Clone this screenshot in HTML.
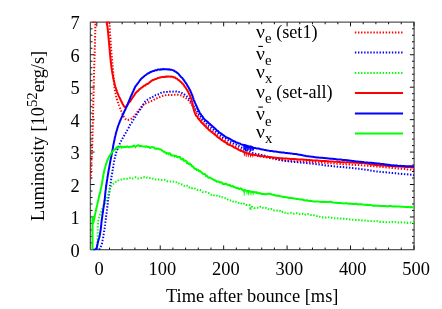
<!DOCTYPE html>
<html><head><meta charset="utf-8"><title>Luminosity</title>
<style>
html,body{margin:0;padding:0;background:#fff;}
body{width:442px;height:309px;overflow:hidden;font-family:"Liberation Serif",serif;}
svg{display:block;}
text{font-family:"Liberation Serif",serif;fill:#000;}
</style></head><body>
<svg width="442" height="309" viewBox="0 0 442 309">
<rect x="0" y="0" width="442" height="309" fill="#fff"/>
<defs><clipPath id="c"><rect x="90.10" y="21.85" width="324.50" height="228.50"/></clipPath></defs>
<path d="M354.9,32.4 L403.0,32.4" stroke="#ff0000" stroke-width="2.0" fill="none" stroke-dasharray="1.4 1.68"/>
<path d="M354.9,52.6 L403.0,52.6" stroke="#0000ff" stroke-width="2.0" fill="none" stroke-dasharray="1.4 1.68"/>
<path d="M354.9,72.9 L403.0,72.9" stroke="#00ff00" stroke-width="2.0" fill="none" stroke-dasharray="1.4 1.68"/>
<path d="M354.9,93.1 L403.0,93.1" stroke="#ff0000" stroke-width="2.0" fill="none"/>
<path d="M354.9,113.4 L403.0,113.4" stroke="#0000ff" stroke-width="2.0" fill="none"/>
<path d="M354.9,133.6 L403.0,133.6" stroke="#00ff00" stroke-width="2.0" fill="none"/>
<rect x="90.4" y="22.15" width="323.70" height="227.50" fill="none" stroke="#5a5a5a" stroke-width="1.3"/>
<g stroke="#111" stroke-width="1.0" fill="none">
<path d="M96.80,249.65 v-4.2 M96.80,22.15 v4.2 M109.49,249.65 v-2.1 M109.49,22.15 v2.1 M122.17,249.65 v-2.1 M122.17,22.15 v2.1 M134.86,249.65 v-2.1 M134.86,22.15 v2.1 M147.54,249.65 v-2.1 M147.54,22.15 v2.1 M160.23,249.65 v-4.2 M160.23,22.15 v4.2 M172.92,249.65 v-2.1 M172.92,22.15 v2.1 M185.60,249.65 v-2.1 M185.60,22.15 v2.1 M198.29,249.65 v-2.1 M198.29,22.15 v2.1 M210.97,249.65 v-2.1 M210.97,22.15 v2.1 M223.66,249.65 v-4.2 M223.66,22.15 v4.2 M236.35,249.65 v-2.1 M236.35,22.15 v2.1 M249.03,249.65 v-2.1 M249.03,22.15 v2.1 M261.72,249.65 v-2.1 M261.72,22.15 v2.1 M274.40,249.65 v-2.1 M274.40,22.15 v2.1 M287.09,249.65 v-4.2 M287.09,22.15 v4.2 M299.78,249.65 v-2.1 M299.78,22.15 v2.1 M312.46,249.65 v-2.1 M312.46,22.15 v2.1 M325.15,249.65 v-2.1 M325.15,22.15 v2.1 M337.83,249.65 v-2.1 M337.83,22.15 v2.1 M350.52,249.65 v-4.2 M350.52,22.15 v4.2 M363.21,249.65 v-2.1 M363.21,22.15 v2.1 M375.89,249.65 v-2.1 M375.89,22.15 v2.1 M388.58,249.65 v-2.1 M388.58,22.15 v2.1 M401.26,249.65 v-2.1 M401.26,22.15 v2.1 M413.95,249.65 v-4.2 M413.95,22.15 v4.2 M90.4,242.91 h2.1 M414.1,242.91 h-2.1 M90.4,236.42 h2.1 M414.1,236.42 h-2.1 M90.4,229.93 h2.1 M414.1,229.93 h-2.1 M90.4,223.45 h2.1 M414.1,223.45 h-2.1 M90.4,216.96 h4.2 M414.1,216.96 h-4.2 M90.4,210.47 h2.1 M414.1,210.47 h-2.1 M90.4,203.98 h2.1 M414.1,203.98 h-2.1 M90.4,197.49 h2.1 M414.1,197.49 h-2.1 M90.4,191.00 h2.1 M414.1,191.00 h-2.1 M90.4,184.51 h4.2 M414.1,184.51 h-4.2 M90.4,178.03 h2.1 M414.1,178.03 h-2.1 M90.4,171.54 h2.1 M414.1,171.54 h-2.1 M90.4,165.05 h2.1 M414.1,165.05 h-2.1 M90.4,158.56 h2.1 M414.1,158.56 h-2.1 M90.4,152.07 h4.2 M414.1,152.07 h-4.2 M90.4,145.58 h2.1 M414.1,145.58 h-2.1 M90.4,139.09 h2.1 M414.1,139.09 h-2.1 M90.4,132.61 h2.1 M414.1,132.61 h-2.1 M90.4,126.12 h2.1 M414.1,126.12 h-2.1 M90.4,119.63 h4.2 M414.1,119.63 h-4.2 M90.4,113.14 h2.1 M414.1,113.14 h-2.1 M90.4,106.65 h2.1 M414.1,106.65 h-2.1 M90.4,100.16 h2.1 M414.1,100.16 h-2.1 M90.4,93.67 h2.1 M414.1,93.67 h-2.1 M90.4,87.19 h4.2 M414.1,87.19 h-4.2 M90.4,80.70 h2.1 M414.1,80.70 h-2.1 M90.4,74.21 h2.1 M414.1,74.21 h-2.1 M90.4,67.72 h2.1 M414.1,67.72 h-2.1 M90.4,61.23 h2.1 M414.1,61.23 h-2.1 M90.4,54.74 h4.2 M414.1,54.74 h-4.2 M90.4,48.25 h2.1 M414.1,48.25 h-2.1 M90.4,41.76 h2.1 M414.1,41.76 h-2.1 M90.4,35.28 h2.1 M414.1,35.28 h-2.1 M90.4,28.79 h2.1 M414.1,28.79 h-2.1"/>
</g>
<g clip-path="url(#c)" fill="none" stroke-linejoin="round">
<path d="M90.6,179.0 90.7,177.7 90.7,176.0 90.9,174.0 91.0,171.8 91.1,169.5 91.2,167.2 91.3,165.0 91.4,163.2 91.5,161.4 91.6,159.7 91.7,157.9 91.7,156.0 91.8,154.1 91.9,152.1 92.0,150.0 92.1,148.2 92.1,146.4 92.2,144.6 92.3,142.6 92.4,140.7 92.4,138.7 92.5,136.6 92.6,134.5 92.6,132.3 92.7,130.0 92.7,128.2 92.8,126.4 92.8,124.5 92.9,122.6 92.9,120.6 93.0,118.6 93.0,116.6 93.1,114.6 93.1,112.5 93.2,110.4 93.2,108.3 93.3,106.1 93.3,104.0 93.3,102.1 93.4,100.2 93.4,98.2 93.5,96.2 93.5,94.1 93.6,92.1 93.6,90.0 93.7,88.0 93.7,85.9 93.8,83.9 93.8,81.8 93.9,79.8 93.9,77.8 94.0,75.9 94.0,74.0 94.1,71.9 94.1,69.8 94.2,67.7 94.2,65.7 94.3,63.7 94.4,61.7 94.4,59.8 94.5,57.8 94.6,55.8 94.6,53.9 94.7,51.9 94.7,50.0 94.8,48.0 94.9,45.9 94.9,43.8 95.0,41.5 95.0,39.2 95.1,36.9 95.2,34.6 95.2,32.4 95.3,30.3 95.3,28.3 95.4,26.5 95.4,24.8 95.5,23.4 95.5,22.3" stroke="#ff0000" stroke-width="2.0" stroke-dasharray="1.4 1.68"/>
<path d="M109.3,22.3 109.4,23.1 109.4,24.1 109.5,25.3 109.6,26.6 109.7,28.0 109.8,29.5 109.9,31.1 110.0,32.8 110.1,34.5 110.2,36.3 110.4,38.0 110.5,39.8 110.6,41.5 110.7,43.1 110.8,44.7 110.9,46.2 111.0,47.6 111.1,48.9 111.2,50.0 111.4,52.3 111.5,54.1 111.7,55.6 111.8,57.0 111.9,58.2 112.1,59.4 112.2,60.6 112.3,62.0 112.4,63.5 112.6,65.1 112.7,66.6 112.8,68.2 113.0,69.7 113.1,71.2 113.2,72.6 113.3,74.0 113.4,75.7 113.5,77.2 113.6,78.7 113.7,80.1 113.9,81.6 114.0,83.0 114.2,84.4 114.3,85.9 114.5,87.3 114.7,88.7 114.9,90.1 115.2,91.6 115.5,92.9 115.7,94.3 116.0,95.6 116.3,97.0 116.7,98.4 117.1,99.8 117.5,101.3 118.0,102.6 118.5,104.1 119.0,105.5 119.6,107.0 120.2,108.5 120.8,109.8 121.3,111.1 121.8,112.2 122.6,114.0 123.2,115.4 123.7,116.5 124.3,117.4 125.4,119.0 126.5,119.8 127.9,120.0 129.5,119.3 131.1,118.7 132.7,117.5 133.8,116.4 134.9,115.3 136.0,113.6 136.8,112.8 137.7,111.6 138.6,110.5 139.5,109.5 140.5,108.4 141.5,106.9 142.5,105.3 143.5,104.4 144.8,103.4 146.2,103.2 147.5,102.7 148.9,102.1 150.2,101.6 151.7,100.9 152.9,100.4 154.2,99.6 155.5,98.6 156.8,98.3 158.1,97.5 159.4,97.2 160.7,96.6 162.2,96.1 163.5,95.7 164.8,95.4 166.2,95.1 167.6,94.8 169.0,95.0 170.4,94.9 171.8,94.9 173.2,94.7 174.5,94.7 175.8,94.8 177.3,94.6 178.6,95.0 180.0,95.2 181.3,95.4 182.7,96.1 184.2,97.1 185.5,97.8 186.7,98.8 187.8,99.7 188.6,100.4 189.4,101.3 190.2,102.6 191.0,103.6 191.9,105.0 192.7,106.3 193.4,107.6 194.0,108.6 194.7,110.1 195.3,111.5 196.0,112.4 196.7,113.9 197.4,115.2 198.1,116.0 198.8,117.2 199.5,118.7 200.3,119.8 201.1,120.5 201.9,121.2 203.0,122.5 203.9,123.7 205.0,124.8 206.1,125.9 207.3,126.7 208.5,128.2 209.6,129.0 210.7,130.2 211.9,130.8 213.0,132.2 214.1,132.8 215.3,133.8 216.4,134.3 217.5,135.5 218.7,136.3 219.8,137.2 220.9,138.0 222.1,139.0 223.2,139.6 224.6,140.5 225.9,141.3 227.3,142.4 228.6,142.8 230.0,143.6 231.4,144.3 232.7,145.3 234.1,145.9 235.5,146.6 236.8,147.0 238.0,148.0 239.2,148.7 240.4,149.3 241.6,150.0 243.0,151.3 244.2,151.4 245.3,152.1 246.5,152.6 247.8,153.4 249.4,153.7 251.4,154.5 252.6,154.7 253.9,155.3 255.3,155.1 256.8,155.6 258.4,156.0 260.0,156.6 261.7,156.6 263.3,156.9 264.9,157.2 266.5,157.4 268.1,157.6 269.5,158.0 271.1,158.4 272.6,158.6 274.0,158.8 275.3,159.2 276.7,159.4 278.1,159.6 279.6,159.9 281.2,160.1 283.0,160.2 285.0,160.5 286.2,160.5 287.5,160.7 288.8,160.7 290.2,160.9 291.6,160.9 293.1,161.1 294.6,161.2 296.2,161.1 297.7,161.3 299.3,161.3 300.9,161.4 302.5,161.5 304.1,161.5 305.7,161.6 307.3,161.7 308.9,161.7 310.5,162.0 312.0,161.9 313.5,162.2 314.9,162.1 316.4,162.3 317.9,162.4 319.4,162.4 320.9,162.5 322.4,162.7 323.9,162.8 325.4,163.0 326.9,163.2 328.4,163.1 329.9,163.3 331.3,163.3 332.8,163.6 334.3,163.6 335.7,163.8 337.2,163.8 338.6,163.8 340.0,163.9 341.5,164.0 342.9,164.3 344.3,164.2 345.6,164.3 346.8,164.4 348.1,164.4 349.3,164.6 350.6,164.5 351.8,164.7 353.1,164.7 354.5,164.9 356.0,164.9 357.5,165.0 359.2,165.1 361.0,165.2 362.9,165.4 365.0,165.6 366.2,165.7 367.4,165.6 368.7,165.7 370.1,165.9 371.6,166.1 373.1,166.2 374.7,166.3 376.3,166.6 378.0,166.6 379.7,166.7 381.4,166.9 383.1,167.0 384.9,167.3 386.6,167.4 388.4,167.6 390.2,167.8 391.9,168.0 393.7,168.2 395.4,168.2 397.1,168.4 398.8,168.6 400.4,168.8 402.0,168.8 403.5,169.1 405.0,169.1 406.4,169.3 407.7,169.5 409.0,169.5 410.2,169.6 411.3,169.8 412.3,169.8 413.2,169.8 414.0,169.9" stroke="#ff0000" stroke-width="2.0" stroke-dasharray="1.4 1.68"/>
<path d="M99.2,249.7 99.8,248.5 100.5,247.0 101.1,246.1 101.7,244.4 102.0,243.4 102.2,242.1 102.5,240.7 102.8,239.1 103.1,237.6 103.4,236.0 103.6,234.8 103.8,233.7 104.0,232.7 104.1,231.5 104.3,230.1 104.6,228.3 104.9,226.0 105.1,224.9 105.2,223.6 105.4,222.2 105.6,220.7 105.8,219.1 106.0,217.4 106.2,215.7 106.4,213.9 106.7,212.2 106.9,210.4 107.1,208.7 107.3,207.0 107.5,205.4 107.7,203.9 107.9,202.5 108.0,201.2 108.2,200.0 108.5,197.8 108.7,196.3 108.8,195.3 108.9,194.3 109.1,193.1 109.3,191.5 109.7,189.0 109.9,188.0 110.0,186.8 110.2,185.5 110.4,184.2 110.7,182.7 110.9,181.2 111.1,179.7 111.4,178.1 111.6,176.4 111.9,174.8 112.2,173.1 112.4,171.4 112.7,169.8 113.0,168.2 113.2,166.6 113.5,165.1 113.7,163.6 114.0,162.2 114.2,160.9 114.5,159.7 114.7,158.6 115.2,156.4 115.7,154.5 116.1,152.9 116.6,151.4 117.0,150.2 117.5,149.0 118.0,147.9 118.5,146.7 119.0,145.5 119.6,144.0 120.3,142.6 121.0,141.3 121.7,140.0 122.4,138.7 123.1,137.4 123.8,136.2 124.5,135.0 125.2,133.8 125.9,132.6 126.6,131.0 127.3,130.1 128.0,128.9 128.7,127.7 129.3,126.3 130.1,124.8 130.9,123.6 131.7,122.5 132.6,120.9 133.5,119.5 134.3,118.2 135.1,117.2 136.1,115.9 137.0,114.2 137.9,113.2 138.7,111.4 139.5,110.7 140.4,109.2 141.3,107.4 142.1,106.4 142.8,105.1 143.5,104.3 144.4,102.4 145.2,101.5 146.3,100.6 147.5,99.7 148.9,98.8 150.3,98.0 151.7,97.7 153.0,96.8 154.2,96.4 155.5,95.3 156.8,95.1 158.1,94.5 159.5,94.0 160.8,93.0 162.2,92.7 163.6,92.2 165.0,92.3 166.5,91.9 168.0,92.1 169.6,91.6 171.3,91.7 173.0,91.6 174.5,91.3 176.2,91.5 177.6,92.0 179.0,92.0 180.2,92.2 181.3,92.6 182.6,93.5 183.8,93.8 185.0,94.9 186.3,95.8 187.4,96.7 188.6,97.7 189.6,99.3 190.5,100.7 191.3,101.8 192.0,103.2 193.0,105.2 193.6,106.1 194.3,107.0 195.1,108.0 195.9,109.7 196.7,110.7 197.5,112.0 198.3,113.1 199.1,114.6 200.0,116.0 200.8,117.1 201.7,118.2 202.5,119.8 203.5,120.9 204.4,121.3 205.3,122.5 206.3,123.5 207.4,124.3 208.4,125.5 209.6,126.7 210.7,127.5 211.9,128.5 213.1,129.4 214.3,130.5 215.5,131.4 216.6,132.3 217.8,133.3 218.9,134.5 220.1,135.2 221.2,136.2 222.6,137.2 223.9,138.0 225.3,138.3 226.6,139.6 228.0,140.0 229.4,141.2 230.8,142.0 232.2,142.7 233.6,143.4 235.0,144.0 236.4,144.7 237.9,145.8 239.3,146.3 240.7,147.2 242.0,147.7 243.4,148.3 244.7,149.0 245.8,149.8 247.0,150.3 248.0,150.9 248.9,151.6 251.4,152.5 252.4,152.8 253.7,153.1 255.0,153.7 256.5,154.0 258.1,154.1 259.8,154.5 261.4,154.9 263.2,155.4 264.8,155.8 266.5,156.3 268.0,156.7 269.5,157.0 271.0,157.5 272.3,157.7 273.6,158.1 274.8,158.6 276.1,158.8 277.3,159.2 278.6,159.5 280.0,159.9 281.5,160.2 283.2,160.5 285.0,160.8 286.2,161.0 287.5,161.2 288.8,161.3 290.2,161.4 291.7,161.7 293.1,161.9 294.6,162.0 296.2,162.1 297.8,162.3 299.3,162.4 300.9,162.6 302.5,162.7 304.1,162.8 305.7,163.0 307.3,163.3 308.9,163.4 310.5,163.5 312.0,163.8 313.5,163.8 315.0,164.0 316.6,164.2 318.1,164.4 319.7,164.5 321.2,164.7 322.8,165.0 324.3,165.1 325.8,165.4 327.4,165.4 328.9,165.7 330.5,165.9 332.0,165.9 333.5,166.1 335.0,166.4 336.5,166.4 338.0,166.7 339.5,166.9 341.1,167.0 342.7,167.1 344.3,167.2 345.9,167.5 347.6,167.6 349.2,167.8 350.9,167.9 352.5,168.1 354.1,168.3 355.6,168.5 357.2,168.7 358.6,168.8 360.0,168.8 361.4,169.1 362.7,169.2 363.9,169.4 365.0,169.6 367.1,169.7 368.4,170.1 369.3,170.2 370.2,170.5 371.3,170.7 373.1,171.1 376.0,171.3 377.1,171.5 378.2,171.6 379.5,171.7 381.0,171.9 382.5,172.1 384.1,172.2 385.8,172.3 387.5,172.5 389.3,172.7 391.1,173.0 392.9,173.1 394.8,173.2 396.6,173.4 398.4,173.6 400.2,173.7 402.0,173.9 403.7,174.1 405.4,174.3 406.9,174.3 408.4,174.5 409.8,174.5 411.0,174.7 412.2,174.8 413.2,175.0 414.0,175.1" stroke="#0000ff" stroke-width="2.0" stroke-dasharray="1.4 1.68"/>
<path d="M97.0,249.0 97.1,248.1 97.2,246.8 97.3,245.2 97.4,243.6 97.5,241.8 97.6,240.0 97.6,238.6 97.7,237.1 97.7,235.5 97.7,233.9 97.7,232.3 97.7,230.8 97.8,229.3 97.8,228.0 97.9,226.1 98.0,224.5 98.1,223.0 98.2,221.5 98.5,220.0 98.8,218.7 99.1,217.4 99.5,216.1 100.0,214.7 100.5,213.4 101.0,212.0 101.5,210.8 102.0,209.5 102.6,208.2 103.2,206.9 103.8,205.6 104.4,204.3 105.0,203.0 105.6,201.5 106.3,199.9 106.9,198.3 107.5,196.8 108.0,195.4 108.5,194.0 109.0,192.5 109.4,191.1 109.7,189.8 110.1,188.6 110.5,187.5 111.4,186.0 112.4,184.7 113.5,183.6 114.5,182.7 115.6,182.0 116.8,181.8 118.0,180.6 119.6,179.9 121.2,179.5 123.0,178.6 124.3,178.8 125.5,178.8 127.0,178.9 129.0,177.7 130.1,177.9 131.4,177.6 132.8,178.5 134.2,178.2 135.7,177.2 137.3,178.4 138.8,178.4 140.3,177.9 141.8,177.9 143.2,177.3 144.6,177.2 146.0,178.0 147.4,177.5 148.9,177.9 150.3,178.1 151.7,178.0 153.1,178.8 154.5,178.9 155.9,179.6 157.3,179.3 158.8,179.6 160.2,179.5 161.6,179.9 163.0,179.8 164.5,179.7 165.9,180.9 167.3,181.2 168.7,181.3 170.2,181.5 171.7,181.3 173.2,181.6 174.7,182.1 176.1,182.2 177.5,183.6 178.8,183.5 180.0,184.5 181.8,184.4 183.3,185.6 184.6,185.9 186.0,185.2 187.7,186.0 188.9,187.4 190.2,187.2 191.5,188.3 192.8,187.9 194.2,187.9 195.7,189.2 197.1,189.9 198.6,189.7 199.9,189.9 201.3,190.7 202.7,192.1 204.2,192.3 205.6,192.0 207.1,192.7 208.5,193.0 210.0,193.4 211.4,194.9 212.8,194.5 214.2,195.4 215.5,195.7 216.9,195.7 218.3,196.9 219.7,196.4 221.1,197.5 222.5,197.2 224.0,198.1 225.4,198.2 226.9,198.8 228.4,200.2 230.0,200.5 231.6,200.3 233.1,201.6 234.6,201.1 236.0,201.8 237.4,202.8 238.6,202.9 240.4,202.7 242.1,204.4 243.6,203.7 244.9,204.1 246.0,205.1 247.0,204.8 248.8,204.9 249.6,205.0 250.0,206.7 250.2,209.4 250.4,210.1 250.6,209.1 251.3,206.8 252.5,206.9 254.2,208.1 256.0,207.8 257.4,207.8 258.9,208.0 260.3,206.8 261.7,206.7 263.2,208.0 264.7,208.3 266.3,207.9 267.4,208.1 268.5,209.1 269.7,209.6 271.2,208.9 273.0,210.3 274.2,210.5 275.4,210.4 276.8,210.5 278.2,210.5 279.8,210.7 281.3,212.4 283.0,211.7 284.7,212.7 286.4,212.4 287.8,213.3 289.2,213.2 290.7,212.9 292.2,212.8 293.8,213.7 295.4,212.9 297.0,213.2 298.6,213.8 300.1,214.3 301.6,214.1 303.1,213.7 304.5,214.8 306.1,214.0 307.7,213.9 309.2,214.5 310.7,215.0 312.2,214.7 313.6,215.1 315.0,215.6 316.4,216.1 317.7,215.7 319.0,216.2 320.7,217.2 322.0,217.5 323.3,217.3 324.6,217.5 326.1,217.5 327.8,217.1 330.0,217.5 331.2,217.6 332.5,218.3 333.9,218.3 335.4,218.5 336.9,218.1 338.6,218.6 340.2,218.6 341.9,218.9 343.6,218.8 345.2,219.3 346.9,218.9 348.5,219.3 350.1,219.5 351.6,219.7 353.0,219.7 354.7,219.9 356.3,220.0 357.9,220.2 359.5,220.0 361.0,220.3 362.5,220.6 364.0,220.7 365.5,220.5 366.9,220.8 368.4,221.0 369.9,220.9 371.4,221.1 372.9,221.0 374.4,221.3 375.8,221.4 377.2,221.2 378.6,221.6 380.1,222.0 381.5,222.0 383.0,222.0 384.5,221.9 386.1,222.2 387.8,222.2 389.5,222.2 390.9,222.5 392.4,222.0 394.0,222.5 395.7,222.1 397.5,222.5 399.3,222.4 401.1,222.3 402.9,222.6 404.6,222.6 406.3,222.6 407.9,222.9 409.4,222.5 410.8,222.4 412.1,222.5 413.1,222.8 414.0,222.5" stroke="#00ff00" stroke-width="2.0" stroke-dasharray="1.4 1.68"/>
<path d="M106.6,22.3 106.7,22.9 106.8,23.6 107.0,24.4 107.2,25.4 107.4,26.7 107.6,28.2 107.8,30.0 107.9,30.8 108.0,31.7 108.1,32.7 108.2,33.8 108.3,34.9 108.4,36.1 108.5,37.3 108.6,38.5 108.8,39.8 108.9,41.1 109.0,42.3 109.1,43.6 109.2,44.8 109.3,45.9 109.4,47.1 109.5,48.1 109.6,49.1 109.7,50.0 109.8,51.5 109.9,52.8 110.1,53.9 110.1,55.0 110.2,56.0 110.3,57.0 110.4,57.9 110.5,58.9 110.6,59.8 110.7,60.9 110.8,62.0 111.0,63.1 111.1,64.2 111.2,65.3 111.4,66.5 111.5,67.6 111.7,68.7 111.9,69.8 112.0,70.9 112.2,72.0 112.4,73.1 112.6,74.2 112.8,75.3 113.0,76.4 113.2,77.4 113.4,78.5 113.6,79.6 113.8,80.6 114.1,81.6 114.3,82.6 114.6,83.7 114.8,84.7 115.1,85.7 115.4,86.8 115.7,87.7 116.0,88.7 116.3,89.7 116.7,90.6 117.0,91.6 117.4,92.7 117.8,93.7 118.3,94.8 118.7,95.8 119.2,96.9 119.7,97.9 120.1,98.8 120.6,99.8 121.1,100.9 121.7,102.0 122.3,103.2 122.8,104.2 123.4,105.2 123.9,106.0 124.3,106.7 125.3,107.3 126.0,106.7 126.5,106.2 127.1,105.3 127.9,104.2 128.5,103.0 129.1,102.4 129.9,101.7 130.6,100.6 131.3,99.7 132.0,98.4 132.7,97.5 133.4,96.4 134.0,95.6 134.7,94.6 135.4,93.3 136.2,92.5 137.0,91.6 137.8,91.1 138.7,90.2 139.5,89.1 140.5,88.7 141.4,87.6 142.4,87.2 143.5,86.2 144.3,85.6 145.2,85.5 146.0,84.6 146.9,84.0 147.8,83.9 148.6,83.3 149.5,82.3 150.2,82.1 151.0,81.2 151.8,80.7 152.7,79.9 153.6,79.9 154.6,79.3 155.6,79.1 156.7,78.7 158.1,78.0 159.0,77.8 160.0,77.5 161.1,77.3 162.3,77.1 163.5,77.0 164.7,77.0 165.8,76.5 166.8,76.8 167.7,76.5 169.1,76.4 170.2,76.7 171.2,76.6 172.2,76.7 173.1,77.0 174.2,77.5 175.2,77.5 176.2,78.6 177.2,78.7 177.9,79.7 178.7,80.3 179.5,80.5 180.3,81.7 181.1,82.2 181.9,83.1 182.6,83.6 183.3,84.4 184.0,85.4 184.7,86.7 185.4,87.3 186.1,88.5 186.7,89.5 187.3,90.5 187.8,91.2 188.3,92.2 188.8,93.3 189.3,94.4 189.7,95.0 190.1,96.2 190.6,97.3 191.0,98.3 191.3,98.8 191.7,100.3 192.1,101.3 192.3,102.3 192.5,103.5 192.8,104.7 193.0,105.6 193.2,107.1 193.4,108.1 193.7,109.2 193.9,110.3 194.2,111.2 194.5,112.1 195.0,113.4 195.6,114.7 196.2,115.8 196.8,116.2 197.4,116.9 198.0,118.3 198.7,119.0 199.4,119.8 200.0,120.5 200.8,121.6 201.8,122.8 202.4,123.2 203.1,124.0 203.8,124.5 204.6,125.8 205.4,126.1 206.2,127.2 207.0,128.2 207.8,128.6 208.6,129.6 209.5,130.5 210.3,131.0 211.2,131.8 212.0,132.1 212.8,133.0 213.7,133.5 214.6,134.5 215.4,134.9 216.2,135.7 217.1,136.7 217.9,137.3 218.8,138.0 219.7,138.4 220.5,139.1 221.3,139.9 222.2,140.4 223.2,141.0 224.1,141.7 225.1,142.1 226.1,142.8 227.1,143.8 228.0,144.3 229.0,144.7 230.0,145.1 231.0,145.6 231.9,145.9 232.9,146.5 233.9,147.3 234.9,147.8 235.8,148.0 236.9,148.8 237.9,149.3 238.8,149.8 239.9,150.3 240.9,150.9 242.0,151.1 243.0,151.7 244.1,151.9 245.2,152.4 246.4,152.9 247.5,153.3 248.6,153.4 249.6,154.0 250.7,154.2 251.8,154.4 252.8,154.3 253.9,154.8 254.9,154.9 256.0,155.3 256.9,155.3 257.8,155.7 258.7,155.7 259.6,155.9 260.7,155.8 261.8,156.1 263.2,156.2 264.1,156.4 265.0,156.4 266.0,156.7 267.1,156.8 268.1,156.9 269.2,157.1 270.4,157.3 271.6,157.3 272.9,157.5 274.1,157.6 275.5,157.8 276.8,158.0 277.8,158.0 278.8,158.1 279.9,158.2 281.0,158.3 282.1,158.3 283.3,158.5 284.5,158.5 285.7,158.6 286.8,158.6 288.0,158.7 289.2,158.8 290.4,158.9 291.6,159.0 292.7,158.9 293.9,159.0 294.9,159.1 296.0,159.2 297.1,159.2 298.2,159.4 299.2,159.4 300.2,159.4 301.1,159.6 302.1,159.6 303.0,159.6 304.0,159.7 304.9,159.8 305.9,159.8 307.0,159.9 308.1,160.0 309.3,160.1 310.6,160.2 312.0,160.3 312.9,160.4 313.8,160.4 314.8,160.6 315.8,160.4 316.8,160.6 317.8,160.6 318.9,160.7 320.0,160.7 321.1,161.0 322.3,160.9 323.4,160.9 324.6,161.1 325.7,161.1 326.9,161.3 328.1,161.3 329.3,161.4 330.4,161.6 331.6,161.6 332.8,161.6 333.9,161.7 335.1,161.8 336.2,161.8 337.3,161.8 338.4,162.0 339.5,162.0 340.7,162.2 341.8,162.2 343.0,162.2 344.2,162.2 345.4,162.4 346.7,162.2 347.9,162.3 349.1,162.4 350.3,162.5 351.5,162.5 352.7,162.6 353.9,162.7 355.0,162.6 356.2,162.7 357.3,162.7 358.4,162.8 359.4,163.0 360.5,162.9 361.5,163.1 362.4,163.1 363.3,163.1 364.2,163.1 365.0,163.3 366.6,163.4 367.7,163.5 368.5,163.6 369.1,163.9 369.7,164.0 370.4,164.2 371.2,164.4 372.3,164.5 373.9,164.8 376.0,165.0 376.7,165.0 377.5,165.2 378.4,165.3 379.4,165.2 380.3,165.3 381.4,165.4 382.5,165.6 383.6,165.6 384.8,165.6 386.0,165.7 387.2,165.7 388.5,166.0 389.8,165.9 391.1,166.1 392.4,166.1 393.7,166.2 395.0,166.3 396.3,166.4 397.7,166.4 399.0,166.6 400.2,166.5 401.5,166.7 402.7,166.7 404.0,166.8 405.1,166.9 406.3,166.9 407.4,167.0 408.4,167.1 409.4,167.1 410.3,167.1 411.2,167.2 412.0,167.3 412.8,167.4 413.4,167.4 414.0,167.4" stroke="#ff0000" stroke-width="2.0"/>
<path d="M92.8,249.7 94.0,249.7 95.3,249.5 96.1,249.0 96.6,248.0 96.9,247.0 97.1,245.7 97.4,244.4 97.7,243.3 97.9,242.2 98.2,241.1 98.5,240.0 98.8,239.0 99.0,238.2 99.3,237.2 99.6,236.0 99.8,235.0 100.0,234.0 100.2,232.9 100.4,231.7 100.6,230.4 100.8,229.0 100.9,228.1 101.0,227.2 101.1,226.2 101.2,225.3 101.3,224.2 101.4,223.1 101.5,221.9 101.7,220.5 101.9,219.0 102.0,218.1 102.2,217.1 102.3,216.1 102.4,215.0 102.6,213.9 102.8,212.8 103.0,211.6 103.1,210.4 103.3,209.1 103.5,207.9 103.7,206.7 103.8,205.5 104.0,204.3 104.2,203.2 104.3,202.1 104.5,201.0 104.6,200.0 104.8,198.8 104.9,197.6 105.0,196.5 105.1,195.5 105.2,194.4 105.3,193.4 105.4,192.4 105.5,191.4 105.6,190.4 105.8,189.4 105.9,188.3 106.0,187.2 106.2,186.0 106.3,185.0 106.5,184.1 106.6,183.1 106.8,182.0 106.9,181.0 107.1,179.9 107.3,178.9 107.4,177.8 107.6,176.7 107.8,175.6 108.0,174.5 108.2,173.4 108.4,172.3 108.5,171.2 108.7,170.1 108.9,169.1 109.1,168.0 109.3,166.9 109.5,165.8 109.7,164.7 109.9,163.6 110.1,162.5 110.3,161.3 110.5,160.2 110.8,159.1 111.0,157.9 111.2,156.8 111.4,155.8 111.6,154.7 111.8,153.7 112.0,152.7 112.2,151.8 112.3,150.9 112.5,150.0 112.8,148.5 113.0,147.2 113.2,146.0 113.4,144.9 113.6,143.9 113.8,142.9 114.0,141.9 114.2,141.0 114.4,140.0 114.7,138.7 114.9,137.5 115.2,136.4 115.5,135.3 115.7,134.2 116.0,133.1 116.3,132.0 116.6,131.0 116.9,130.0 117.2,129.0 117.5,128.0 117.8,127.0 118.1,126.0 118.5,125.0 118.8,124.1 119.2,123.2 119.6,122.2 119.9,121.3 120.4,120.3 120.8,119.3 121.3,118.2 121.8,117.0 122.2,116.2 122.6,115.2 123.0,114.3 123.5,113.3 124.0,112.3 124.5,111.2 125.0,110.0 125.5,109.3 125.9,107.9 126.4,107.2 126.8,106.2 127.2,105.2 127.7,104.3 128.1,103.0 128.5,102.2 128.9,101.1 129.3,100.1 129.6,99.4 130.0,98.7 130.4,97.4 130.8,96.4 131.2,95.6 131.7,94.8 132.2,93.5 132.7,92.3 133.2,91.5 133.7,90.0 134.1,89.4 134.6,88.2 135.0,87.3 135.7,86.1 136.3,85.2 136.9,84.6 137.6,83.5 138.2,82.8 138.8,82.0 139.5,81.0 140.1,80.2 140.9,79.1 141.8,78.2 142.5,77.6 143.3,77.2 144.1,76.3 145.0,75.5 145.9,75.0 146.8,74.2 147.7,73.5 148.6,73.3 149.6,72.7 150.6,71.9 151.6,71.7 152.6,71.2 153.5,71.1 154.5,70.7 155.4,70.2 156.6,70.3 157.7,69.6 158.8,69.6 159.9,69.7 161.0,69.3 162.2,69.4 163.3,69.0 164.5,69.2 165.7,69.3 167.0,69.2 168.0,69.5 169.1,69.3 170.1,69.7 171.3,69.8 172.4,70.1 173.5,70.4 174.5,71.1 175.4,71.7 176.3,72.1 177.2,72.9 178.0,73.3 178.9,74.5 179.7,75.4 180.5,76.4 181.3,77.2 182.0,77.7 182.8,78.7 183.5,79.8 184.1,80.4 184.8,81.6 185.4,82.4 186.1,83.3 186.7,84.3 187.3,85.5 187.8,86.1 188.3,87.1 188.9,88.1 189.4,89.3 189.9,89.8 190.4,90.9 190.8,91.9 191.2,92.9 191.7,94.1 192.2,95.3 192.6,96.1 192.9,97.3 193.3,98.3 193.6,99.5 194.0,100.6 194.3,101.0 194.7,101.9 195.2,103.1 195.6,104.0 196.0,105.0 196.4,106.1 196.9,107.0 197.4,107.9 197.9,109.2 198.5,110.2 199.0,111.3 199.6,112.5 200.1,113.3 200.7,114.1 201.3,115.1 202.0,116.0 202.6,116.5 203.2,117.8 203.8,118.5 204.6,119.4 205.3,120.2 206.1,120.6 206.9,121.4 207.7,121.9 208.6,123.1 209.4,123.5 210.2,124.2 211.0,125.1 211.9,125.8 212.8,126.7 213.7,127.3 214.5,128.1 215.4,128.9 216.2,129.6 217.1,130.5 217.9,131.0 218.8,132.1 219.7,132.7 220.5,133.1 221.3,133.8 222.2,134.4 223.2,135.1 224.1,135.6 225.1,136.6 226.1,137.2 227.1,137.5 228.0,138.0 229.0,138.4 230.0,138.9 230.9,139.6 231.9,140.1 232.9,141.0 233.9,141.1 234.8,141.5 235.8,142.5 236.8,142.6 237.7,142.8 238.7,143.4 239.7,143.4 240.6,144.0 241.6,144.6 242.6,144.8 243.6,145.0 244.6,145.0 245.6,145.3 246.6,145.5 247.6,146.1 248.6,146.2 249.6,146.6 250.7,146.6 251.7,146.8 252.8,147.4 253.8,147.7 254.9,147.9 256.0,148.2 257.0,148.4 258.0,148.6 259.1,148.6 260.1,149.0 261.2,149.2 262.2,149.4 263.2,149.6 264.3,149.9 265.3,150.1 266.3,150.3 267.4,150.6 268.4,150.6 269.5,150.9 270.4,151.0 271.2,151.1 272.0,151.1 272.9,151.2 273.9,151.4 275.2,151.5 276.8,151.7 277.6,151.9 278.4,152.1 279.4,152.2 280.4,152.2 281.4,152.4 282.5,152.5 283.6,152.5 284.7,152.8 285.9,152.9 287.0,153.0 288.2,153.2 289.4,153.3 290.6,153.4 291.7,153.6 292.8,153.7 293.9,153.9 295.0,154.1 296.1,154.1 297.1,154.3 298.1,154.6 299.1,154.7 300.0,154.8 301.0,154.9 302.0,155.1 302.9,155.4 303.9,155.6 304.9,155.7 306.0,156.0 307.0,156.2 308.2,156.3 309.4,156.4 310.7,156.6 312.0,156.7 312.9,156.8 313.9,157.1 314.8,157.2 315.8,157.2 316.9,157.4 317.9,157.4 319.0,157.6 320.1,157.7 321.2,157.7 322.3,157.8 323.5,157.9 324.6,158.0 325.8,158.2 327.0,158.3 328.1,158.4 329.3,158.5 330.5,158.7 331.6,158.7 332.8,158.8 334.0,159.0 335.1,159.1 336.2,159.2 337.3,159.4 338.4,159.4 339.5,159.5 340.7,159.6 341.8,159.7 343.0,159.9 344.2,159.9 345.4,160.0 346.7,160.3 347.9,160.3 349.1,160.5 350.3,160.7 351.5,160.8 352.7,160.9 353.9,161.1 355.0,161.2 356.2,161.4 357.3,161.4 358.4,161.6 359.4,161.7 360.5,161.8 361.5,162.0 362.4,162.0 363.3,162.1 364.2,162.3 365.0,162.4 366.7,162.4 368.0,162.6 369.1,162.7 370.1,162.7 370.9,162.8 371.8,162.8 372.6,162.9 373.6,163.0 374.7,163.2 376.0,163.2 376.9,163.4 377.8,163.5 378.8,163.5 379.8,163.7 380.9,163.9 381.9,164.0 383.0,164.0 384.2,164.2 385.3,164.4 386.4,164.5 387.6,164.7 388.8,164.8 389.9,165.1 391.1,165.2 392.2,165.4 393.4,165.3 394.5,165.5 395.6,165.6 396.7,165.6 397.9,165.8 399.1,165.9 400.4,165.8 401.6,166.1 402.9,166.0 404.2,166.1 405.4,166.2 406.6,166.3 407.8,166.2 408.9,166.3 410.0,166.3 411.0,166.3 411.9,166.3 412.7,166.4 413.4,166.5 414.0,166.4" stroke="#0000ff" stroke-width="2.0"/>
<path d="M92.5,249.4 92.5,248.8 92.5,248.1 92.5,247.3 92.5,246.4 92.5,245.4 92.5,244.3 92.5,243.2 92.5,242.0 92.5,240.7 92.5,239.5 92.5,238.1 92.5,236.8 92.5,235.4 92.5,234.0 92.5,232.7 92.5,231.3 92.5,229.9 92.5,228.6 92.5,227.3 92.5,226.1 92.5,224.9 92.5,223.7 92.5,222.6 92.5,221.6 92.5,220.7 92.5,219.9 92.5,219.1 92.5,218.5 92.5,218.0 92.5,217.1 92.5,218.5 92.6,221.0 92.7,223.1 93.0,223.6 93.1,223.2 93.3,222.7 93.5,222.0 93.7,221.2 93.9,220.2 94.1,219.2 94.3,218.1 94.6,216.9 94.8,215.6 95.1,214.2 95.4,212.9 95.7,211.4 96.0,210.0 96.2,209.1 96.4,208.1 96.7,207.1 96.9,206.0 97.2,204.9 97.4,203.7 97.7,202.5 98.0,201.3 98.3,200.0 98.6,198.8 98.9,197.5 99.2,196.3 99.4,195.0 99.7,193.8 100.0,192.7 100.3,191.5 100.5,190.4 100.7,189.4 101.0,188.4 101.2,187.5 101.3,186.7 101.5,186.0 101.9,184.0 102.1,182.8 102.2,182.1 102.3,181.6 102.3,181.0 102.5,180.0 102.7,179.0 102.9,177.9 103.1,176.7 103.3,175.5 103.5,174.3 103.8,173.1 104.0,172.0 104.2,171.0 104.5,169.8 104.7,168.7 105.0,167.8 105.3,166.8 105.5,165.9 105.8,165.0 106.1,163.9 106.5,162.9 106.8,161.9 107.2,160.9 107.6,160.0 108.1,158.9 108.5,157.9 109.0,156.8 109.7,155.7 110.3,154.8 110.9,153.9 111.6,152.9 112.3,151.6 113.0,151.2 113.6,150.2 114.6,149.6 115.5,148.9 116.5,147.5 117.5,146.9 118.5,147.7 120.0,146.5 120.8,146.4 121.6,147.6 122.5,146.8 123.5,147.3 124.7,146.8 125.9,147.1 127.3,146.3 128.2,146.9 129.2,147.2 130.3,146.6 131.4,146.8 132.6,146.6 133.8,145.5 135.0,146.5 136.3,146.1 137.5,145.6 138.6,145.1 139.7,146.3 140.8,145.8 142.0,146.2 143.2,146.5 144.3,146.4 145.5,146.9 146.6,146.3 147.7,147.1 148.7,146.8 149.7,147.8 150.7,147.9 151.7,146.9 152.9,147.2 154.1,147.5 155.2,148.9 156.3,148.3 157.3,148.9 158.3,148.6 159.2,149.2 160.0,149.2 161.1,149.6 161.8,150.3 162.4,150.7 163.6,151.8 164.4,151.8 165.3,152.6 166.3,152.9 167.4,153.5 168.5,153.5 169.6,153.2 170.7,154.7 171.7,155.3 172.7,155.6 173.8,155.5 174.9,156.1 175.9,155.7 176.9,156.9 177.9,156.9 179.0,156.9 180.0,157.0 180.9,158.7 181.9,159.5 182.9,158.8 183.8,160.5 184.8,160.6 185.8,160.8 186.8,161.7 187.7,163.1 188.6,163.9 189.5,163.3 190.3,164.8 191.1,164.6 192.0,166.3 192.9,166.4 193.9,168.0 195.0,168.9 195.8,168.8 196.6,170.1 197.5,169.7 198.4,169.9 199.3,171.4 200.3,171.1 201.2,172.0 202.2,173.0 203.2,173.9 204.1,173.9 205.1,174.3 206.0,176.1 207.0,175.8 208.0,177.3 208.9,177.8 209.9,177.5 210.8,178.1 211.8,178.7 212.7,179.4 213.7,179.8 214.7,180.2 215.7,180.7 216.8,181.7 217.8,181.4 218.8,181.7 219.8,182.5 220.9,182.2 222.0,182.7 223.0,184.1 224.1,183.7 225.2,184.1 226.3,183.7 227.4,184.7 228.4,185.3 229.5,184.8 230.6,186.0 231.7,186.4 232.9,186.0 234.0,187.2 235.2,187.3 236.3,188.0 237.5,187.9 238.6,188.7 239.6,189.1 240.6,188.3 241.5,188.7 242.3,189.9 243.9,190.8 245.0,190.1 246.0,190.6 246.9,191.1 248.0,190.9 249.1,191.2 250.3,191.4 251.6,191.7 252.8,192.2 254.0,191.9 255.0,192.2 256.2,193.0 257.1,192.1 258.0,193.1 259.0,193.6 259.9,193.1 260.9,193.5 261.9,194.0 262.9,194.0 264.0,194.1 265.1,194.2 266.2,194.2 267.4,193.8 268.6,193.8 269.7,193.8 270.7,194.2 271.6,194.3 272.5,194.8 273.6,194.8 275.0,195.2 275.8,195.5 276.6,195.8 277.5,195.8 278.4,195.8 279.4,196.0 280.4,196.3 281.5,196.4 282.6,196.8 283.8,197.0 285.1,197.0 286.4,197.2 287.3,197.6 288.2,197.7 289.2,197.9 290.3,197.8 291.3,197.9 292.4,198.1 293.6,198.5 294.7,198.5 295.8,198.7 297.0,198.9 298.1,199.1 299.2,199.2 300.3,199.6 301.4,199.4 302.5,199.5 303.5,200.1 304.5,200.2 305.7,200.4 307.0,200.3 308.2,200.7 309.3,200.9 310.5,200.7 311.6,201.1 312.7,201.3 313.8,201.4 314.9,201.4 316.0,201.4 317.0,201.6 318.0,201.6 319.0,201.6 320.3,201.9 321.5,201.8 322.7,202.0 323.9,201.7 325.1,202.0 326.2,201.9 327.3,202.0 328.2,201.9 329.2,201.9 330.0,201.8 331.1,201.7 331.5,202.2 331.9,202.1 332.9,202.4 335.0,202.8 335.7,202.8 336.5,202.8 337.4,203.1 338.4,203.0 339.5,202.9 340.5,203.0 341.7,203.3 342.9,203.2 344.1,203.4 345.3,203.3 346.6,203.3 347.9,203.5 349.2,203.7 350.4,203.5 351.7,203.9 353.0,204.0 354.2,204.0 355.3,204.1 356.5,203.8 357.6,204.2 358.6,204.4 359.8,204.1 361.0,204.3 362.1,204.4 363.3,204.6 364.3,204.7 365.4,204.8 366.5,205.0 367.5,204.8 368.6,204.9 369.6,205.0 370.6,205.1 371.6,205.2 372.6,205.7 373.7,205.7 374.7,205.5 375.7,205.7 376.8,205.7 377.9,205.8 378.9,205.8 380.0,206.0 381.1,206.0 382.1,206.0 383.2,205.9 384.3,206.0 385.3,206.0 386.4,206.2 387.4,206.3 388.5,206.2 389.6,206.0 390.7,206.1 391.7,206.2 392.8,206.4 393.9,206.5 395.0,206.3 396.1,206.6 397.3,206.6 398.5,206.5 399.8,206.6 401.1,206.7 402.4,206.8 403.7,206.8 405.0,206.9 406.3,206.9 407.5,206.9 408.7,207.1 409.8,207.2 410.8,207.0 411.8,207.2 412.6,207.2 413.4,207.4 414.0,207.5" stroke="#00ff00" stroke-width="2.0"/>
<path d="M243.2,189.3 L245.2,189.3 L244.5,196.0 L243.9,196.0Z M246.0,190.0 L248.0,190.0 L247.3,194.8 L246.7,194.8Z M247.7,190.5 L249.7,190.5 L249.0,195.4 L248.4,195.4Z M250.0,191.0 L252.0,191.0 L251.3,195.4 L250.7,195.4Z M252.2,191.5 L254.2,191.5 L253.5,195.3 L252.9,195.3Z M165.4,152.0 L167.4,152.0 L166.7,155.0 L166.1,155.0Z M167.7,152.8 L169.7,152.8 L169.0,155.4 L168.4,155.4Z M169.9,153.7 L171.9,153.7 L171.2,156.6 L170.6,156.6Z M173.5,155.1 L175.5,155.1 L174.8,157.8 L174.2,157.8Z M176.3,156.2 L178.3,156.2 L177.6,158.6 L177.0,158.6Z M134.5,146.0 L136.5,146.0 L135.8,148.6 L135.2,148.6Z M185.5,161.5 L187.5,161.5 L186.8,164.2 L186.2,164.2Z M183.0,159.8 L185.0,159.8 L184.3,162.3 L183.7,162.3Z" fill="#00ff00" stroke="none"/>
<path d="M243.1,145.0 L244.9,145.0 L244.5,150.6 L243.5,150.6Z M244.7,145.5 L246.5,145.5 L246.1,151.2 L245.1,151.2Z M246.3,146 L248.1,146 L247.7,151.4 L246.7,151.4Z M247.9,146.3 L249.7,146.3 L249.3,150.6 L248.3,150.6Z M249.5,146.6 L251.3,146.6 L250.9,151.6 L249.9,151.6Z M251.1,147 L252.9,147 L252.5,151.0 L251.5,151.0Z M252.5,147.3 L254.3,147.3 L253.9,150.4 L252.9,150.4Z" fill="#0000ff" stroke="none"/>
<path d="M243.6,152.2 L245.2,152.2 L244.7,156.2 L244.1,156.2Z M245.4,152.8 L247.0,152.8 L246.5,157.0 L245.9,157.0Z M247.5,153.4 L249.1,153.4 L248.6,157.2 L248.0,157.2Z M249.7,154 L251.3,154 L250.8,157.6 L250.2,157.6Z M252.0,154.5 L253.6,154.5 L253.1,157.4 L252.5,157.4Z" fill="#ff0000" stroke="none"/>
</g>
<path d="M91.8,22.2 H96.2 M105.8,22.2 H109.8" stroke="#ff0000" stroke-width="1.0" fill="none"/>
<g id="txt" style="filter:grayscale(1)">
<text x="79.8" y="256.5" font-size="18.4" text-anchor="end">0</text>
<text x="79.8" y="224.1" font-size="18.4" text-anchor="end">1</text>
<text x="79.8" y="191.6" font-size="18.4" text-anchor="end">2</text>
<text x="79.8" y="159.2" font-size="18.4" text-anchor="end">3</text>
<text x="79.8" y="126.7" font-size="18.4" text-anchor="end">4</text>
<text x="79.8" y="94.3" font-size="18.4" text-anchor="end">5</text>
<text x="79.8" y="61.8" font-size="18.4" text-anchor="end">6</text>
<text x="79.8" y="29.4" font-size="18.4" text-anchor="end">7</text>
<text x="99.0" y="274.5" font-size="18.4" text-anchor="middle">0</text>
<text x="162.4" y="274.5" font-size="18.4" text-anchor="middle">100</text>
<text x="225.9" y="274.5" font-size="18.4" text-anchor="middle">200</text>
<text x="289.3" y="274.5" font-size="18.4" text-anchor="middle">300</text>
<text x="352.7" y="274.5" font-size="18.4" text-anchor="middle">400</text>
<text x="416.1" y="274.5" font-size="18.4" text-anchor="middle">500</text>
<text x="252.2" y="301.5" font-size="18.4" text-anchor="middle">Time after bounce [ms]</text>
<text transform="translate(44.1,135.9) rotate(-90)" font-size="18.4" text-anchor="middle">Luminosity [10<tspan font-size="14.8" dy="-7">52</tspan><tspan dy="7">erg/s]</tspan></text>
<text x="256.1" y="37.5" font-size="19.7">ν<tspan font-size="14.8" dy="5.2">e</tspan><tspan font-size="18.2" dy="-5.2"> (set1)</tspan></text>
<text x="256.1" y="60.0" font-size="19.7">ν<tspan font-size="14.8" dy="5.2">e</tspan></text>
<path d="M258.3,46.40 h4.6" stroke="#000" stroke-width="1.1"/>
<text x="256.1" y="77.7" font-size="19.7">ν<tspan font-size="14.8" dy="5.2">x</tspan></text>
<text x="256.1" y="97.6" font-size="19.7">ν<tspan font-size="14.8" dy="5.2">e</tspan><tspan font-size="18.2" dy="-5.2"> (set-all)</tspan></text>
<text x="256.1" y="120.4" font-size="19.7">ν<tspan font-size="14.8" dy="5.2">e</tspan></text>
<path d="M258.3,107.10 h4.6" stroke="#000" stroke-width="1.1"/>
<text x="256.1" y="138.2" font-size="19.7">ν<tspan font-size="14.8" dy="5.2">x</tspan></text>
</g>
</svg></body></html>
